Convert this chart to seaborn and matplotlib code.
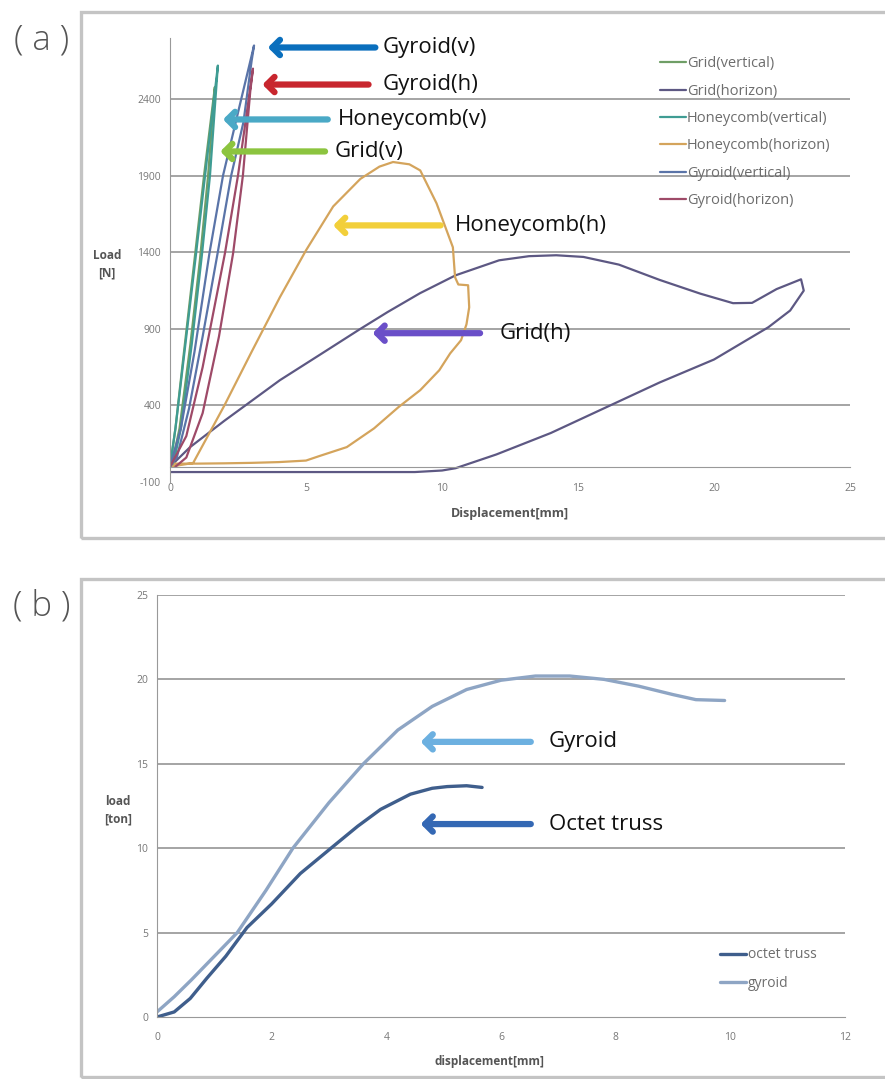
import numpy as np
import pandas as pd
import matplotlib
matplotlib.use("Agg")
import matplotlib.pyplot as plt
from matplotlib.patches import Rectangle
from matplotlib.ticker import MultipleLocator, FixedLocator
import seaborn as sns

# ---------------- data: panel (a) ----------------
series_a = ["Grid(vertical)", "Grid(horizon)", "Honeycomb(vertical)",
            "Honeycomb(horizon)", "Gyroid(vertical)", "Gyroid(horizon)"]

grid_v_x = [0, 0.2, 0.45, 0.9, 1.25, 1.65, 1.55, 1.4, 1.1, 0.75, 0.35, 0.05]
grid_v_y = [0, 250, 650, 1350, 1900, 2480, 2250, 1900, 1350, 800, 250, 0]

grid_h_x = [0, 0.74, 2.0, 4.04, 5.5, 6.98, 8.0, 9.19, 10.5, 12.1, 13.2, 14.2, 15.2,
            16.5, 18.0, 19.5, 20.7, 21.4, 22.3, 23.2, 23.3, 22.8, 22.0, 20.0, 18.0,
            16.0, 14.0, 12.0, 10.5, 10.0, 9.0, 0]
grid_h_y = [0, 128, 300, 565, 730, 898, 1010, 1133, 1250, 1348, 1375, 1381, 1370,
            1320, 1220, 1130, 1068, 1070, 1160, 1224, 1150, 1020, 911, 700, 550,
            385, 220, 80, -10, -25, -35, -35]

honey_v_x = [0, 0.2, 0.5, 0.96, 1.29, 1.76, 1.65, 1.47, 1.18, 0.8, 0.4, 0.1]
honey_v_y = [0, 250, 700, 1394, 1902, 2620, 2350, 1902, 1394, 800, 250, 0]

honey_h_x = [0, 0.85, 2.0, 3.0, 4.04, 5.0, 6.0, 7.0, 7.7, 8.2, 8.8, 9.2, 9.8, 10.4,
             10.48, 10.6, 10.96, 11.0, 10.9, 10.7, 10.3, 9.9, 9.2, 8.4, 7.5, 6.5,
             5.5, 5.0, 4.0, 3.0, 2.0, 1.0, 0]
honey_h_y = [0, 24, 400, 750, 1107, 1413, 1700, 1880, 1960, 1990, 1975, 1935, 1720,
             1433, 1237, 1190, 1185, 1041, 930, 826, 740, 630, 500, 389, 250, 128,
             70, 40, 30, 25, 22, 20, 20]

gyroid_v_x = [0, 0.4, 0.9, 1.45, 1.95, 2.55, 3.09, 3.0, 2.7, 2.25, 1.75, 1.2, 0.7, 0.25, 0]
gyroid_v_y = [0, 250, 750, 1394, 1902, 2350, 2751, 2650, 2250, 1902, 1394, 850, 380, 60, 0]

gyroid_h_x = [0, 0.6, 1.2, 2.02, 2.5, 3.05, 2.95, 2.68, 2.32, 1.8, 1.2, 0.6, 0.2]
gyroid_h_y = [0, 200, 650, 1394, 1902, 2600, 2450, 1902, 1394, 850, 350, 60, 0]

# ---------------- data: panel (b) ----------------
series_b = ["octet truss", "gyroid"]

octet_x = [0, 0.3, 0.58, 0.87, 1.2, 1.57, 2.0, 2.5, 3.07, 3.5, 3.9, 4.42, 4.8, 5.06, 5.4, 5.67]
octet_y = [0, 0.3, 1.1, 2.3, 3.6, 5.3, 6.7, 8.5, 10.1, 11.3, 12.3, 13.2, 13.55, 13.65, 13.7, 13.6]

gyroid_x = [0, 0.3, 0.6, 1.0, 1.4, 1.9, 2.37, 3.0, 3.6, 4.2, 4.8, 5.4, 6.0, 6.6, 7.2,
            7.8, 8.4, 9.0, 9.4, 9.9]
gyroid_y = [0.3, 1.2, 2.2, 3.6, 5.0, 7.5, 10.0, 12.7, 15.0, 17.0, 18.4, 19.4, 19.95,
            20.2, 20.2, 20.0, 19.6, 19.1, 18.8, 18.75]

# ---------------- build tables ----------------
def long_df(names, xs, ys):
    frames = []
    for n, x, y in zip(names, xs, ys):
        frames.append(pd.DataFrame({"x": x, "y": y, "series": n}))
    return pd.concat(frames, ignore_index=True)

df_a = long_df(series_a,
               [grid_v_x, grid_h_x, honey_v_x, honey_h_x, gyroid_v_x, gyroid_h_x],
               [grid_v_y, grid_h_y, honey_v_y, honey_h_y, gyroid_v_y, gyroid_h_y])
df_b = long_df(series_b, [octet_x, gyroid_x], [octet_y, gyroid_y])

pal_a = {"Grid(vertical)": "#6f9e66", "Grid(horizon)": "#5d5883",
         "Honeycomb(vertical)": "#3f9c93", "Honeycomb(horizon)": "#d4a45c",
         "Gyroid(vertical)": "#5a74a8", "Gyroid(horizon)": "#9e4a68"}
pal_b = {"octet truss": "#3f5e8c", "gyroid": "#8ea5c4"}

sns.set_style("white")
plt.rcParams["font.family"] = ["Open Sans", "DejaVu Sans"]
plt.rcParams["axes.unicode_minus"] = False

W, H = 885, 1079
fig = plt.figure(figsize=(W / 100, H / 100), dpi=100)

def fr(x0, y0, x1, y1):
    return [x0 / W, 1 - y1 / H, (x1 - x0) / W, (y1 - y0) / H]

# frames
for (x0, y0, x1, y1) in [(81, 12, 890, 538), (81, 579, 890, 1077)]:
    fig.patches.append(Rectangle((x0 / W, 1 - y1 / H), (x1 - x0) / W, (y1 - y0) / H,
                                 transform=fig.transFigure, fill=False,
                                 edgecolor="#c4c4c4", linewidth=2.4))

fig.text(42 / W, 1 - 40 / H, "( a )", fontsize=25, color="#555555",
         ha="center", va="center", fontweight="light")
fig.text(42 / W, 1 - 606 / H, "( b )", fontsize=25, color="#555555",
         ha="center", va="center", fontweight="light")

tick_col = "#777777"
grid_col = "#a4a4a4"

# ---------------- panel (a) ----------------
ax = fig.add_axes(fr(170, 38, 850, 482))
sns.lineplot(data=df_a, x="x", y="y", hue="series", hue_order=series_a, palette=pal_a,
             sort=False, estimator=None, lw=1.6, ax=ax)
ax.set_xlim(0, 25)
ax.set_ylim(-100, 2800)
ax.yaxis.set_major_locator(FixedLocator([-100, 400, 900, 1400, 1900, 2400]))
ax.yaxis.set_minor_locator(MultipleLocator(100))
ax.xaxis.set_major_locator(MultipleLocator(5))
ax.xaxis.set_minor_locator(MultipleLocator(1))
for v in [400, 900, 1400, 1900, 2400]:
    ax.axhline(v, color=grid_col, lw=1.4, zorder=0)
for s in ["top", "right"]:
    ax.spines[s].set_visible(False)
ax.spines["bottom"].set_position(("data", 0))
ax.spines["bottom"].set_color("#999999")
ax.spines["left"].set_color("#999999")
ax.tick_params(axis="both", which="both", direction="inout", colors="#999999",
               labelcolor=tick_col, labelsize=7.5)
ax.tick_params(axis="y", which="major", length=6)
ax.tick_params(axis="y", which="minor", length=3)
ax.tick_params(axis="x", which="major", length=6, pad=9)
ax.tick_params(axis="x", which="minor", length=4)
ax.set_xlabel("Displacement[mm]", fontsize=9, fontweight="bold", color="#555555")
ax.xaxis.set_label_coords(0.5, -0.057)
ax.set_ylabel("Load\n[N]", fontsize=8.5, fontweight="bold", color="#555555",
              rotation=0, va="center", ha="center", linespacing=1.5)
ax.yaxis.set_label_coords(-0.093, 0.49)
h, l = ax.get_legend_handles_labels()
leg = ax.legend(h, l, loc="upper left", bbox_to_anchor=(0.712, 0.972), frameon=False,
                fontsize=10.5, labelspacing=0.85, handlelength=1.75, handletextpad=0.1,
                borderaxespad=0)
for t in leg.get_texts():
    t.set_color("#6d6d6d")

arrow_kw = dict(arrowstyle="->,head_length=0.55,head_width=0.55", lw=4.5,
                shrinkA=0, shrinkB=0)
ann_a = [("Gyroid(v)", "#0a6fbd", 3.6, 7.55, 2738, 383),
         ("Gyroid(h)", "#c8262e", 3.4, 7.3, 2496, 383),
         ("Honeycomb(v)", "#4aa9c6", 1.95, 5.8, 2268, 338),
         ("Grid(v)", "#8cc43f", 1.85, 5.7, 2059, 335),
         ("Honeycomb(h)", "#f2cf3a", 6.0, 9.95, 1576, 455),
         ("Grid(h)", "#6a4fc8", 7.45, 11.4, 872, 500)]
for txt, col, xh, xt, yv, tx in ann_a:
    ax.annotate("", xy=(xh, yv), xytext=(xt, yv),
                arrowprops=dict(color=col, **arrow_kw), annotation_clip=False)
    ax.text((tx - 170) / 27.2, yv, txt, fontsize=16, color="#111111",
            ha="left", va="center", clip_on=False)

# ---------------- panel (b) ----------------
bx = fig.add_axes(fr(157, 595, 845, 1017))
sns.lineplot(data=df_b, x="x", y="y", hue="series", hue_order=series_b, palette=pal_b,
             sort=False, estimator=None, lw=2.4, ax=bx)
bx.set_xlim(0, 12)
bx.set_ylim(0, 25)
bx.yaxis.set_major_locator(MultipleLocator(5))
bx.yaxis.set_minor_locator(MultipleLocator(1))
bx.xaxis.set_major_locator(MultipleLocator(2))
bx.xaxis.set_minor_locator(MultipleLocator(0.4))
for v in [5, 10, 15, 20, 25]:
    bx.axhline(v, color=grid_col, lw=1.4, zorder=0)
for s in ["top", "right"]:
    bx.spines[s].set_visible(False)
bx.spines["bottom"].set_color("#999999")
bx.spines["left"].set_color("#999999")
bx.tick_params(axis="both", which="both", direction="inout", colors="#999999",
               labelcolor=tick_col, labelsize=7.5)
bx.tick_params(axis="y", which="major", length=6)
bx.tick_params(axis="y", which="minor", length=3)
bx.tick_params(axis="x", which="major", length=6, pad=8)
bx.tick_params(axis="x", which="minor", length=4)
bx.set_xlabel("displacement[mm]", fontsize=8.5, fontweight="bold", color="#555555")
bx.xaxis.set_label_coords(0.484, -0.09)
bx.set_ylabel("load\n[ton]", fontsize=8.5, fontweight="bold", color="#555555",
              rotation=0, va="center", ha="center", linespacing=1.5)
bx.yaxis.set_label_coords(-0.057, 0.49)
h, l = bx.get_legend_handles_labels()
leg = bx.legend(h, l, loc="upper left", bbox_to_anchor=(0.81, 0.178), frameon=False,
                fontsize=10, labelspacing=1.0, handlelength=1.9, handletextpad=0.1,
                borderaxespad=0)
for t in leg.get_texts():
    t.set_color("#6d6d6d")

ann_b = [("Gyroid", "#6cb0e0", 4.6, 6.52, 16.3),
         ("Octet truss", "#3468b4", 4.6, 6.52, 11.43)]
for txt, col, xh, xt, yv in ann_b:
    bx.annotate("", xy=(xh, yv), xytext=(xt, yv),
                arrowprops=dict(color=col, **arrow_kw), annotation_clip=False)
    bx.text((549 - 157) / 57.33, yv, txt, fontsize=16, color="#111111",
            ha="left", va="center", clip_on=False)

fig.savefig("out.png", dpi=100)
